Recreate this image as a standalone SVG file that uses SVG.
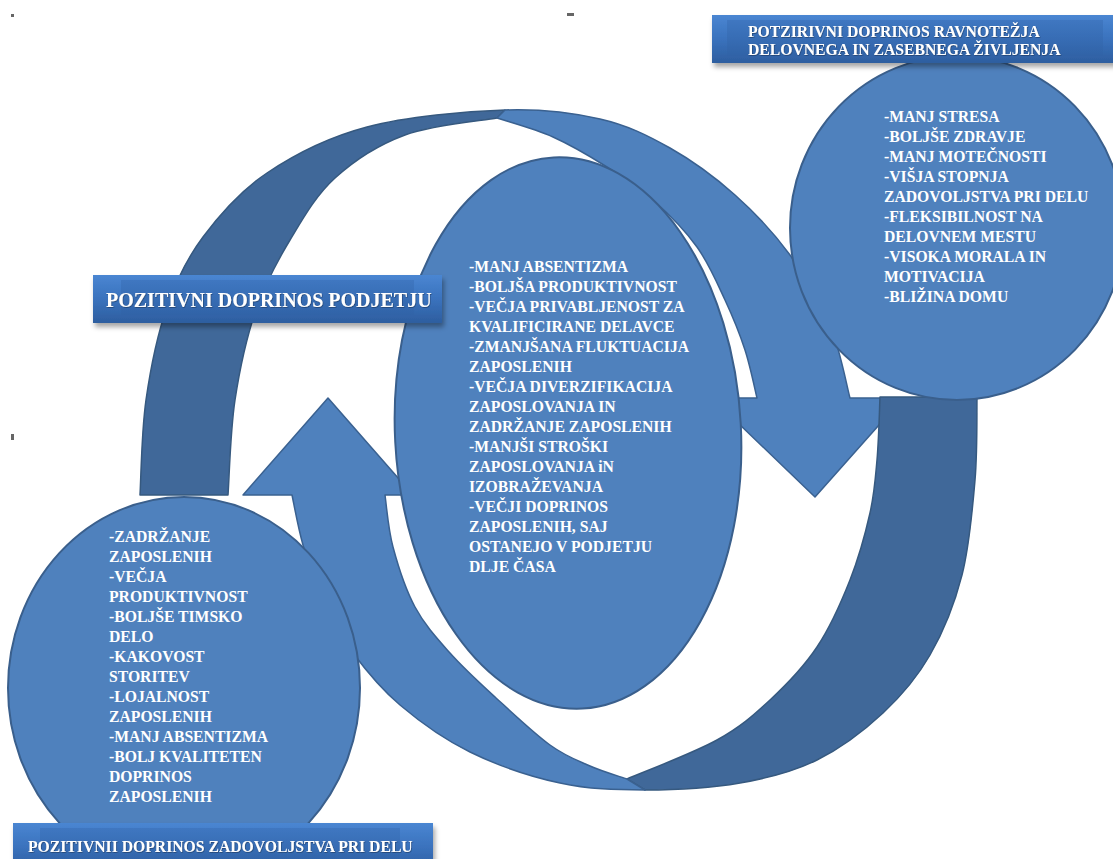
<svg xmlns="http://www.w3.org/2000/svg" width="1113" height="859" viewBox="0 0 1113 859">
<style>
.lt{fill:#4F81BD;stroke:#3A6190;stroke-width:1.5;stroke-linejoin:round}
.dk{fill:#406899;stroke:#36597F;stroke-width:1.5;stroke-linejoin:round}
.node{fill:#4F81BD;stroke:#3A5F8C;stroke-width:2}
.t{font-family:"Liberation Serif","Times New Roman",serif;font-weight:bold;font-size:15.7px;fill:#ffffff}
.bt{font-family:"Liberation Serif","Times New Roman",serif;font-weight:bold;fill:#ffffff}
.mark{fill:#666}
</style>
<defs>
<linearGradient id="bg" x1="0" y1="0" x2="0" y2="1">
<stop offset="0" stop-color="#4A86D2"/>
<stop offset="0.5" stop-color="#3A72BD"/>
<stop offset="1" stop-color="#2D5E9F"/>
</linearGradient>
<linearGradient id="bgi" x1="0" y1="0" x2="0" y2="1">
<stop offset="0" stop-color="#3A70B8"/>
<stop offset="1" stop-color="#3062A6"/>
</linearGradient>
<filter id="sh" x="-10%" y="-30%" width="120%" height="170%">
<feDropShadow dx="2" dy="4" stdDeviation="2.5" flood-color="#000" flood-opacity="0.35"/>
</filter>
<filter id="tsh" x="-5%" y="-20%" width="110%" height="140%">
<feDropShadow dx="0.6" dy="0.8" stdDeviation="0.5" flood-color="#1d3557" flood-opacity="0.7"/>
</filter>
</defs>
<rect width="1113" height="859" fill="#ffffff"/>
<g id="marks">
<rect class="mark" x="11" y="14" width="3" height="3"/>
<rect class="mark" x="567" y="13" width="7" height="3"/>
<rect class="mark" x="11" y="434" width="3" height="6"/>
</g>
<g id="connectors">
<path id="arrow-top-back" class="dk" d="M140,495 C141,479 141.5,431.3 146,400 C150.5,368.7 157.5,334.2 167,307 C176.5,279.8 186.3,259.3 203,237 C219.7,214.7 239.7,191.3 267,173 C294.3,154.7 327.3,137.5 367,127 C406.7,116.5 466.2,111.3 505,110 L497,118 C481.7,120.8 432,125 405,135 C378,145 354.2,160.5 335,178 C315.8,195.5 303.2,218 290,240 C276.8,262 265.2,283.3 256,310 C246.8,336.7 239.7,369.2 235,400 C230.3,430.8 229.2,479.2 228,495 Z"/>
<path id="arrow-top-front" class="lt" d="M505,110 C543.8,108.7 572.5,112.7 600,119 C627.5,125.3 647.5,135.3 670,148 C692.5,160.7 715,177.2 735,195 C755,212.8 774.2,233.3 790,255 C805.8,276.7 820,301.2 830,325 C840,348.8 846.7,385.8 850,398 L903,398 L815,497 L712,398 L757,398 C755,390 750.3,366.3 745,350 C739.7,333.7 733,317.2 725,300 C717,282.8 709,263.7 697,247 C685,230.3 668,213.3 653,200 C638,186.7 623.7,177.5 607,167 C590.3,156.5 571.3,145.2 553,137 C534.7,128.8 506.3,121.2 497,118 Z"/>
<path id="arrow-bottom-back" class="dk" d="M977,397 C976.7,412.5 977.5,450.7 975,480 C972.5,509.3 969.5,545.8 962,575 C954.5,604.2 943.2,632 930,655 C916.8,678 901.8,695.5 883,713 C864.2,730.5 840.8,748.3 817,760 C793.2,771.7 768.7,778 740,783 C711.3,788 675,790 645,790 L627,779 C642,772.5 693.2,753.2 717,740 C740.8,726.8 753.3,715.5 770,700 C786.7,684.5 803.7,667 817,647 C830.3,627 841.2,602.3 850,580 C858.8,557.7 865.5,533 870,513 C874.5,493 875.3,479 877,460 C878.7,441 879.5,409.2 880,397 Z"/>
<path id="arrow-bottom-front" class="lt" d="M645,790 C615,790 589.2,789.3 560,783 C530.8,776.7 496.7,765 470,752 C443.3,739 419.5,721.5 400,705 C380.5,688.5 366,670.5 353,653 C340,635.5 330.3,618 322,600 C313.7,582 308,562.5 303,545 C298,527.5 293.8,503.3 292,495 L243,495 L328,398 L413,495 L385,495 C386.3,503.7 388,528.3 393,547 C398,565.7 405.5,589.3 415,607 C424.5,624.7 436.7,638 450,653 C463.3,668 478.3,681.7 495,697 C511.7,712.3 534.2,733.5 550,745 C565.8,756.5 577.2,760.3 590,766 C602.8,771.7 620.8,776.8 627,779 Z"/>
</g>
<g id="node-center">
<ellipse class="node" cx="568" cy="433" rx="173" ry="276" transform="rotate(-3 568 433)"/>
<text class="t" x="469" y="272">
<tspan x="469" dy="0">-MANJ ABSENTIZMA</tspan>
<tspan x="469" dy="20">-BOLJŠA PRODUKTIVNOST</tspan>
<tspan x="469" dy="20">-VEČJA PRIVABLJENOST ZA</tspan>
<tspan x="469" dy="20">KVALIFICIRANE DELAVCE</tspan>
<tspan x="469" dy="20">-ZMANJŠANA FLUKTUACIJA</tspan>
<tspan x="469" dy="20">ZAPOSLENIH</tspan>
<tspan x="469" dy="20">-VEČJA DIVERZIFIKACIJA</tspan>
<tspan x="469" dy="20">ZAPOSLOVANJA IN</tspan>
<tspan x="469" dy="20">ZADRŽANJE ZAPOSLENIH</tspan>
<tspan x="469" dy="20">-MANJŠI STROŠKI</tspan>
<tspan x="469" dy="20">ZAPOSLOVANJA iN</tspan>
<tspan x="469" dy="20">IZOBRAŽEVANJA</tspan>
<tspan x="469" dy="20">-VEČJI DOPRINOS</tspan>
<tspan x="469" dy="20">ZAPOSLENIH, SAJ</tspan>
<tspan x="469" dy="20">OSTANEJO V PODJETJU</tspan>
<tspan x="469" dy="20">DLJE ČASA</tspan>
</text>
</g>
<g id="node-right">
<ellipse class="node" cx="957" cy="228" rx="167" ry="172"/>
<text class="t" x="884" y="122">
<tspan x="884" dy="0">-MANJ STRESA</tspan>
<tspan x="884" dy="20">-BOLJŠE ZDRAVJE</tspan>
<tspan x="884" dy="20">-MANJ MOTEČNOSTI</tspan>
<tspan x="884" dy="20">-VIŠJA STOPNJA</tspan>
<tspan x="884" dy="20">ZADOVOLJSTVA PRI DELU</tspan>
<tspan x="884" dy="20">-FLEKSIBILNOST NA</tspan>
<tspan x="884" dy="20">DELOVNEM MESTU</tspan>
<tspan x="884" dy="20">-VISOKA MORALA IN</tspan>
<tspan x="884" dy="20">MOTIVACIJA</tspan>
<tspan x="884" dy="20">-BLIŽINA DOMU</tspan>
</text>
</g>
<g id="node-left">
<ellipse class="node" cx="184" cy="688" rx="176" ry="191"/>
<text class="t" x="109" y="542">
<tspan x="109" dy="0">-ZADRŽANJE</tspan>
<tspan x="109" dy="20">ZAPOSLENIH</tspan>
<tspan x="109" dy="20">-VEČJA</tspan>
<tspan x="109" dy="20">PRODUKTIVNOST</tspan>
<tspan x="109" dy="20">-BOLJŠE TIMSKO</tspan>
<tspan x="109" dy="20">DELO</tspan>
<tspan x="109" dy="20">-KAKOVOST</tspan>
<tspan x="109" dy="20">STORITEV</tspan>
<tspan x="109" dy="20">-LOJALNOST</tspan>
<tspan x="109" dy="20">ZAPOSLENIH</tspan>
<tspan x="109" dy="20">-MANJ ABSENTIZMA</tspan>
<tspan x="109" dy="20">-BOLJ KVALITETEN</tspan>
<tspan x="109" dy="20">DOPRINOS</tspan>
<tspan x="109" dy="20">ZAPOSLENIH</tspan>
</text>
</g>
<g id="banner-left">
<rect x="93" y="275" width="349" height="48" fill="url(#bg)" filter="url(#sh)"/>
<rect x="121" y="280" width="293" height="35" fill="url(#bgi)" opacity="0.6"/>
<text class="bt" x="106" y="307" font-size="20" filter="url(#tsh)">POZITIVNI DOPRINOS PODJETJU</text>
</g>
<g id="banner-right">
<rect x="712" y="15" width="405" height="48" fill="url(#bg)" filter="url(#sh)"/>
<rect x="727" y="20" width="376" height="36" fill="url(#bgi)" opacity="0.6"/>
<text class="bt" x="748" y="37" font-size="15.7" filter="url(#tsh)">
<tspan x="748" dy="0">POTZIRIVNI DOPRINOS RAVNOTEŽJA</tspan>
<tspan x="748" dy="18">DELOVNEGA IN ZASEBNEGA ŽIVLJENJA</tspan>
</text>
</g>
<g id="banner-bottom">
<rect x="13" y="823" width="420" height="48" fill="url(#bg)" filter="url(#sh)"/>
<rect x="40" y="828" width="360" height="35" fill="url(#bgi)" opacity="0.6"/>
<text class="bt" x="28" y="852" font-size="15.7" filter="url(#tsh)">POZITIVNII DOPRINOS ZADOVOLJSTVA PRI DELU</text>
</g>
</svg>
